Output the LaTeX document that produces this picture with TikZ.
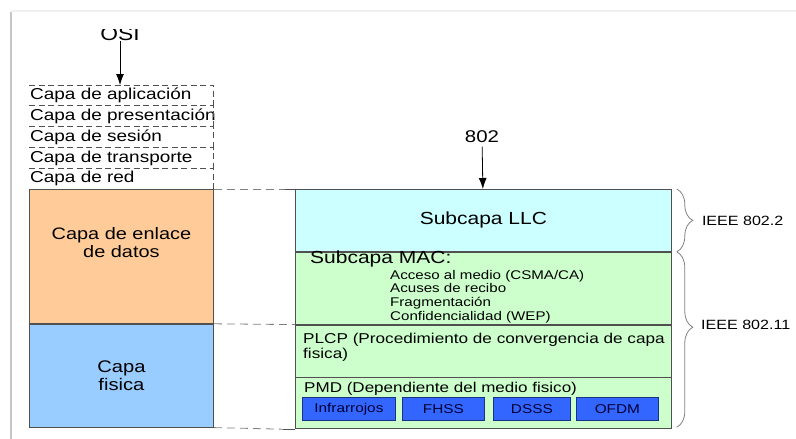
\documentclass[tikz,border=0pt]{standalone}
\usepackage{fontspec}
\setmainfont{Liberation Sans}[FakeStretch=1.2]
\usetikzlibrary{arrows.meta}
\usetikzlibrary{decorations.pathreplacing}
\usetikzlibrary{positioning}
\definecolor{enlace}{HTML}{FFCC99}
\definecolor{fisica}{HTML}{99CCFF}
\definecolor{llccol}{HTML}{CCFFFF}
\definecolor{maccol}{HTML}{CCFFCC}
\definecolor{pmdcol}{HTML}{3366FF}
\definecolor{boxline}{HTML}{505050}
\newcommand\fsz[2]{\fontsize{#1}{#2}\selectfont}
\tikzset{
    layer/.style={
           rectangle,
           draw=boxline, thick,
           anchor=north west,
           inner sep=0pt,
           text centered,
           font=\fsz{17.5}{20},
           },
    osirow/.style={
           anchor=north west,
           minimum width=184pt,
           minimum height=20.8pt,
           text width=182pt,
           inner sep=1pt,
           align=left,
           font=\fsz{15.8}{18},
           },
    osidash/.style={draw=boxline, dash pattern=on 6pt off 3.5pt, thick},
    dashline/.style={draw=gray, dash pattern=on 8pt off 5pt, thick},
    pmdbox/.style={
           rectangle,
           draw=pmdcol!50!black, thick,
           fill=pmdcol,
           anchor=north west,
           minimum height=23pt,
           inner sep=0pt,
           text=black!80!blue,
           font=\fsz{12.8}{15},
           },
    ieeebrace/.style={draw=gray, thick, decorate,
           decoration={brace, amplitude=16pt}},
    arr/.style={-{Latex[length=11pt,width=8pt]}, thick},
}
\begin{document}
\begin{tikzpicture}[x=1pt,y=-1pt]
      \useasboundingbox (0,0) rectangle (796,439);
      % frame shadow
      \draw[gray!45, line width=2.5pt] (11,12) -- (11,439);
      \draw[gray!12, line width=2pt] (11,11) -- (796,11);
      % OSI stack
      \begin{scope}
        \clip (0,29) rectangle (300,60);
        \node[font=\fsz{19}{22}] (osi) at (120,34) {OSI};
      \end{scope}
      \foreach \name/\txt [count=\i from 0] in {app/Capa de aplicación, pres/Capa de presentación, ses/Capa de sesión, trans/Capa de transporte, red/Capa de red}
      {
        \node[osirow] (\name) at (29,85+\i*20.8) {\mbox{\txt}};
        \draw[osidash] (\name.north west) -- (\name.north east) -- (\name.south east);
      }
      \draw[arr] (osi.south) ++(0,-3) -- (app.north -| osi.south);
      \node[layer, fill=enlace, minimum width=184pt, minimum height=134pt] (enlace) at (29,189) {};
      \node[align=center, font=\fsz{16.6}{18.5}] (enlacetxt) at ([yshift=14pt]enlace.center) {Capa de enlace\\de datos};
      \node[layer, fill=fisica, minimum width=184pt, minimum height=103pt, align=center, font=\fsz{16.8}{17.5}] (fisica) at (enlace.south west) {Capa\\fisica};
      % 802 stack
      \node[font=\fsz{17}{20}] (n802) at (482,137) {802};
      \node[layer, fill=llccol, minimum width=376pt, minimum height=62pt] (llc) at (295,189) {Subcapa LLC};
      \node[layer, fill=maccol, minimum width=376pt, minimum height=72pt] (mac) at (llc.south west) {};
      \node[layer, fill=maccol, minimum width=376pt, minimum height=52pt] (plcp) at (mac.south west) {};
      \node[layer, fill=maccol, minimum width=376pt, minimum height=51pt] (pmd) at (plcp.south west) {};
      \draw[arr] (n802) -- (llc);
      \node[anchor=west, inner sep=0pt, font=\fsz{17.5}{20}] (mactitle) at ([xshift=15pt,yshift=-7pt]mac.north west) {Subcapa MAC:};
      \node[anchor=north west, inner sep=0pt, align=left, font=\fsz{12.6}{13.8}] (macitems) at ([xshift=95pt,yshift=-18pt]mac.north west)
           {Acceso al medio (CSMA/CA)\\Acuses de recibo\\Fragmentación\\Confidencialidad (WEP)};
      \node[anchor=north west, inner sep=0pt, align=left, font=\fsz{14.3}{15.5}] (plcptxt) at ([xshift=8pt,yshift=-8pt]plcp.north west)
           {PLCP (Procedimiento de convergencia de capa\\fisica)};
      \node[anchor=north west, inner sep=0pt, font=\fsz{14.2}{15.5}] (pmdtxt) at ([xshift=9pt,yshift=-5pt]pmd.north west)
           {PMD (Dependiente del medio fisico)};
      \node[pmdbox, minimum width=93pt] (ir)   at (302,397) {Infrarrojos};
      \node[pmdbox, minimum width=82pt] (fhss) at (402,397) {FHSS};
      \node[pmdbox, minimum width=77pt] (dsss) at (493,397) {DSSS};
      \node[pmdbox, minimum width=82pt] (ofdm) at (576,397) {OFDM};
      % links between the stacks
      \draw[dashline] (enlace.north east) -- ([xshift=-10pt]llc.north west);
      \draw[draw=boxline, thick] ([xshift=-10pt]llc.north west) -- (llc.north west);
      \draw[dashline] (enlace.south east) -- (plcp.north west);
      \draw[dashline] (fisica.south east) -- ([xshift=-12pt]pmd.south west);
      \draw[draw=boxline, thick] ([xshift=-12pt]pmd.south west) -- (pmd.south west);
      % braces
      \draw[ieeebrace] ([xshift=5pt]llc.north east) -- ([xshift=5pt]llc.south east);
      \node[anchor=west, font=\fsz{13.4}{15}, inner sep=0pt] (ieee2) at ([xshift=30pt]llc.east) {IEEE 802.2};
      \draw[ieeebrace, decoration={aspect=0.43}] ([xshift=5pt]mac.north east) -- ([xshift=5pt,yshift=2pt]pmd.south east);
      \node[anchor=west, font=\fsz{13.4}{15}, inner sep=0pt] (ieee11) at (701,325) {IEEE 802.11};
\end{tikzpicture}
\end{document}
